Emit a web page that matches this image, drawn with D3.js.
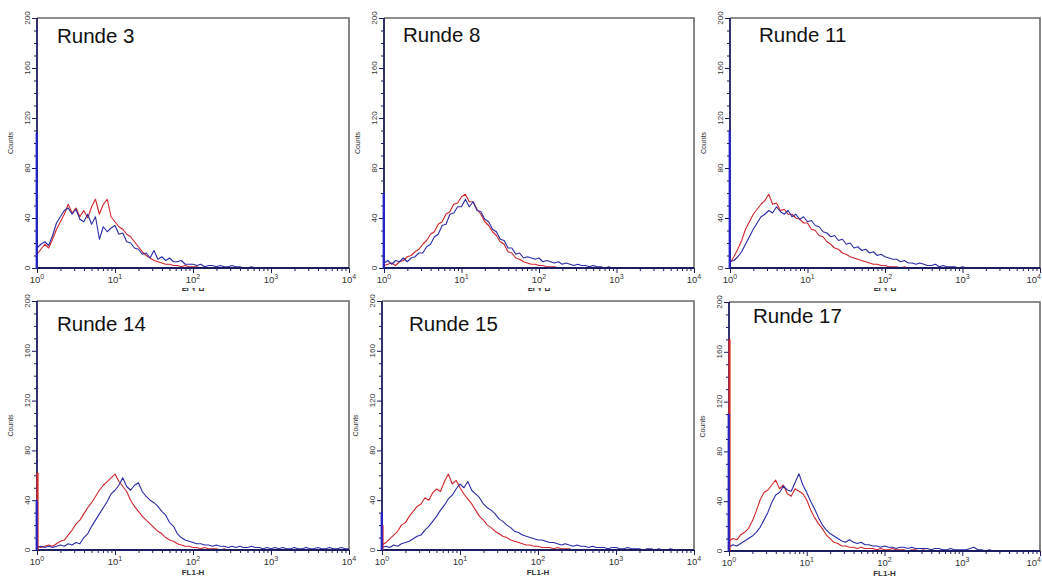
<!DOCTYPE html>
<html><head><meta charset="utf-8">
<script src="https://cdn.jsdelivr.net/npm/d3@7"></script>
<style>
html,body{margin:0;padding:0;background:#fff;}
svg{display:block;}
text{font-family:"Liberation Sans",Arial,sans-serif;}
</style></head>
<body>
<svg id="c" width="1042" height="577"></svg>
<script>
// ---------- data ----------
const panelTitles = ["Runde 3","Runde 8","Runde 11","Runde 14","Runde 15","Runde 17"];
const yTicks = [0,40,80,120,160,200];
const xTicks = [1,10,100,1000,10000];
const xTickExp = ["0","1","2","3","4"];
const yLabel = "Counts";
const xLabel = "FL1-H";
// histogram bin positions (log channel grid, 20 bins per decade)
const channels = d3.range(81).map(i => Math.pow(10, i / 20));

const r3Blue = [16,19,21,18,26,36,41,46,48,43, 47,39,37,43,35,41,23,33,29,32, 34,27,28,21,20,16,15,11,12,8,
  14,7,9,6,8,5,5,6,3,3, 3,2,3,1,2,2,1,2,1,1, 2,1,1,0,0,1,0,0,0,0, 0,0,0,0,0,0,0,0,0,0, 0,0,0,0,0,0,0,0,0,0,0];
const r3Red = [11,15,19,16,23,31,37,43,51,44, 48,41,46,40,49,55,43,51,55,41, 37,33,31,27,25,21,17,13,10,8,
  6,5,4,3,3,2,2,1,2,1, 1,1,0,1,0,0,0,0,0,0, 0,0,0,0,0,0,0,0,0,0, 0,0,0,0,0,0,0,0,0,0, 0,0,0,0,0,0,0,0,0,0,0];
const r8Blue = [4,6,3,6,5,8,5,8,9,12, 12,17,19,25,27,34,35,43,44,49, 49,55,49,53,46,45,39,37,31,29,
  23,22,16,16,11,12,8,9,8,7, 8,5,6,5,4,5,3,4,3,2, 3,2,2,1,2,1,1,0,1,0, 0,0,0,0,0,0,0,0,0,0, 0,0,0,0,0,0,0,0,0,0,0];
const r8Red = [2,3,4,2,5,6,9,10,13,15, 19,22,27,29,35,37,43,45,51,52, 57,59,53,53,47,43,37,34,29,26,
  21,19,13,12,8,7,5,4,3,3, 2,2,1,1,1,0,0,0,0,0, 0,0,0,0,0,0,0,0,0,0, 0,0,0,0,0,0,0,0,0,0, 0,0,0,0,0,0,0,0,0,0,0];
const r11Blue = [5,6,9,13,19,25,31,36,41,43, 46,44,49,45,43,46,41,43,39,41, 37,38,34,33,29,28,25,26,22,23,
  19,20,16,17,14,15,12,13,10,11, 9,8,7,7,5,6,4,4,3,4, 3,2,2,3,1,2,1,1,1,0, 1,0,0,0,0,0,0,0,0,0, 0,0,0,0,0,0,0,0,0,0,0];
const r11Red = [4,9,15,22,31,37,43,47,51,54, 59,51,52,46,47,43,43,40,39,36, 36,31,30,26,25,21,19,16,15,12,
  11,9,8,7,6,5,4,3,3,2, 2,1,1,1,0,1,0,0,0,0, 0,0,0,0,0,0,0,0,0,0, 0,0,0,0,0,0,0,0,0,0, 0,0,0,0,0,0,0,0,0,0,0];
const r14Blue = [2,3,2,3,2,3,4,3,5,4, 6,5,10,13,19,24,29,34,39,45, 48,52,58,51,48,52,54,47,43,40,
  38,35,31,28,22,19,13,10,8,7, 6,5,5,4,4,3,4,3,3,2, 3,2,3,2,2,3,2,2,1,2, 1,2,1,2,1,1,2,1,1,2, 1,1,2,1,1,2,1,1,2,1,1];
const r14Red = [3,2,3,4,3,5,7,8,12,16, 21,24,29,34,38,43,48,52,55,58, 61,55,51,47,40,35,31,27,24,21,
  18,15,13,10,8,7,5,4,3,3, 2,2,1,2,1,1,1,0,1,0, 0,0,0,0,0,0,0,0,0,0, 0,0,0,0,0,0,0,0,0,0, 0,0,0,0,0,0,0,0,0,0,0];
const r15Blue = [2,3,2,4,3,5,6,7,9,11, 12,16,19,23,27,32,36,41,44,49, 53,50,55,48,45,42,37,34,32,29,
  25,23,20,18,15,14,12,11,10,9, 8,8,7,6,6,5,4,5,4,3, 4,3,3,2,3,2,2,2,1,2, 2,1,1,2,1,1,1,0,1,1, 0,1,0,0,1,0,0,0,0,0,0];
const r15Red = [4,6,9,12,15,20,22,27,31,35, 37,42,40,46,49,47,55,61,53,56, 50,45,41,37,32,27,24,20,18,15,
  13,11,10,8,7,6,5,4,4,3, 3,2,2,2,1,2,1,1,1,0, 0,0,0,0,0,0,0,0,0,0, 0,0,0,0,0,0,0,0,0,0, 0,0,0,0,0,0,0,0,0,0,0];
const r17Blue = [3,5,4,6,8,10,12,15,19,25, 31,39,45,47,52,49,48,55,62,53, 47,40,34,27,21,17,14,12,10,8,
  7,9,7,6,7,5,5,4,4,3, 4,3,3,2,3,3,2,3,2,2, 2,2,1,2,2,1,1,2,1,1, 1,1,2,3,1,1,0,1,0,0, 0,0,0,0,0,0,0,0,0,0,0];
const r17Red = [8,10,9,13,15,18,24,32,41,47, 49,53,57,50,53,46,44,50,48,46, 41,33,27,22,18,13,10,7,6,4,
  4,3,3,2,3,2,2,2,1,2, 1,1,2,1,1,1,0,1,1,0, 1,0,1,0,0,1,0,0,0,0, 0,0,0,0,0,0,0,0,0,0, 0,0,0,0,0,0,0,0,0,0,0];

// events piled up in the first channel (value at 10^0)
const spikeBlue = [108, 60, 110, 40, 30, 110];
const spikeRed  = [0, 0, 0, 62, 20, 170];

const blueSeries = [r3Blue, r8Blue, r11Blue, r14Blue, r15Blue, r17Blue];
const redSeries  = [r3Red, r8Red, r11Red, r14Red, r15Red, r17Red];

// ---------- layout ----------
const panels = [
  {x:37,  y:18,  w:312, h:250, tx:57,  ty:43},
  {x:384, y:18,  w:310, h:250, tx:403, ty:42},
  {x:730, y:18,  w:310, h:250, tx:759, ty:42},
  {x:37,  y:301, w:312, h:249, tx:57,  ty:331},
  {x:382, y:301, w:312, h:249, tx:409, ty:331},
  {x:729, y:302, w:311, h:249, tx:753, ty:323}
];
const RED = "#d0262b", BLUE = "#2b2ba6", AXIS = "#1c1c60", FRAME = "#6a6a6a";

const svg = d3.select("#c");
const defs = svg.append("defs");
defs.append("clipPath").attr("id","toprow").append("rect").attr("x",0).attr("y",0).attr("width",1042).attr("height",291);

panels.forEach((p, k) => {
  const g = svg.append("g");
  if (k < 3) g.attr("clip-path","url(#toprow)");
  const x = d3.scaleLog().domain([1,10000]).range([p.x, p.x + p.w]);
  const y = d3.scaleLinear().domain([0,200]).range([p.y + p.h, p.y]);

  // frame: top & right
  g.append("path").attr("d", `M${p.x},${p.y}H${p.x+p.w}V${p.y+p.h}`)
    .attr("fill","none").attr("stroke",FRAME).attr("stroke-width",1.6);

  // y axis
  const ya = d3.axisLeft(y).tickValues(yTicks).tickSize(5).tickFormat("");
  const yaMinor = d3.axisLeft(y).tickValues(d3.range(0,201,10).filter(v => v % 40 !== 0)).tickSize(3).tickFormat("");
  [ya, yaMinor].forEach(a => {
    const ag = g.append("g").attr("transform",`translate(${p.x},0)`).call(a);
    ag.select(".domain").remove();
    ag.selectAll("line").attr("stroke",AXIS).attr("stroke-width",1);
  });
  yTicks.forEach(v => {
    g.append("text").attr("transform",`translate(${p.x-7},${y(v)}) rotate(-90)`)
      .attr("text-anchor","middle").attr("font-size",8).attr("fill","#333").text(v);
  });
  g.append("text").attr("transform",`translate(${p.x-24},${p.y+p.h/2}) rotate(-90)`)
    .attr("text-anchor","middle").attr("font-size",7).attr("fill","#333").text(yLabel);

  // x axis
  const minor = [];
  for (let d = 1; d < 10000; d *= 10) for (let m = 2; m <= 9; m++) minor.push(d*m);
  const xa = d3.axisBottom(x).tickValues(xTicks).tickSize(5).tickFormat("");
  const xaMinor = d3.axisBottom(x).tickValues(minor).tickSize(3).tickFormat("");
  [xa, xaMinor].forEach(a => {
    const ag = g.append("g").attr("transform",`translate(0,${p.y+p.h})`).call(a);
    ag.select(".domain").remove();
    ag.selectAll("line").attr("stroke",AXIS).attr("stroke-width",1);
  });
  xTicks.forEach((v,i) => {
    const last = (k % 3 === 2) && i === xTicks.length - 1;
    const t = g.append("text").attr("x", last ? 1041 : x(v)).attr("y", p.y + p.h + 15)
      .attr("text-anchor", last ? "end" : "middle").attr("font-size",9.5).attr("fill","#333");
    t.append("tspan").text("10");
    t.append("tspan").attr("dy",-4).attr("font-size",7).text(xTickExp[i]);
  });
  g.append("text").attr("x", p.x + p.w/2).attr("y", p.y + p.h + 25)
    .attr("text-anchor","middle").attr("font-size",8).attr("font-weight","bold").attr("fill","#333").text(xLabel);

  // data
  const line = d3.line().x((d,i) => x(channels[i])).y(d => y(d));
  g.append("path").datum(redSeries[k]).attr("d", line)
    .attr("fill","none").attr("stroke",RED).attr("stroke-width",1.1).attr("stroke-linejoin","round");
  g.append("path").datum(blueSeries[k]).attr("d", line)
    .attr("fill","none").attr("stroke",BLUE).attr("stroke-width",1.1).attr("stroke-linejoin","round");

  // axis lines
  g.append("line").attr("x1",p.x).attr("x2",p.x+p.w).attr("y1",p.y+p.h).attr("y2",p.y+p.h)
    .attr("stroke",AXIS).attr("stroke-width",1.8);
  g.append("line").attr("x1",p.x).attr("x2",p.x).attr("y1",p.y).attr("y2",p.y+p.h)
    .attr("stroke",AXIS).attr("stroke-width",1.8);

  // first-channel spikes
  if (spikeRed[k] > 0)
    g.append("line").attr("x1",x(1)+0.5).attr("x2",x(1)+0.5).attr("y1",y(0)).attr("y2",y(spikeRed[k]))
      .attr("stroke",RED).attr("stroke-width",2.2);
  g.append("line").attr("x1",x(1)-0.3).attr("x2",x(1)-0.3).attr("y1",y(0)).attr("y2",y(spikeBlue[k]))
    .attr("stroke","#2323c8").attr("stroke-width",2.2);

  // title
  g.append("text").attr("x",p.tx).attr("y",p.ty).attr("font-size",20.5).attr("fill","#111").text(panelTitles[k]);
});
</script>
</body></html>
